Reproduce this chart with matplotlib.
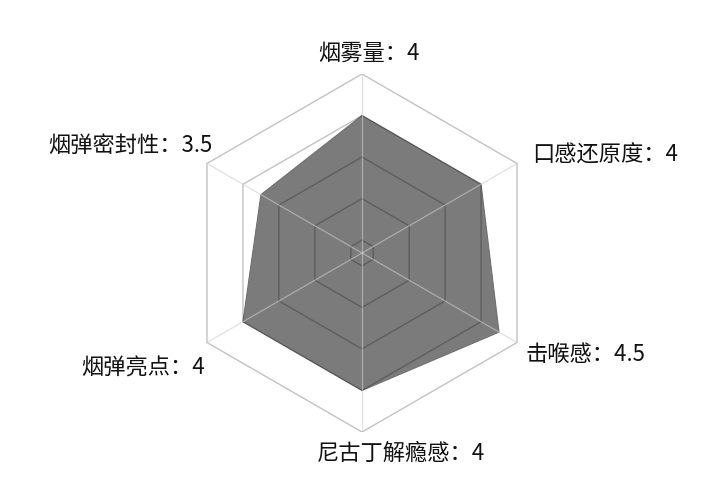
import numpy as np
import matplotlib
matplotlib.use("Agg")
import matplotlib.pyplot as plt

plt.rcParams['font.family'] = ['Noto Sans CJK SC', 'DejaVu Sans']

categories = ['烟雾量', '口感还原度', '击喉感', '尼古丁解瘾感', '烟弹亮点', '烟弹密封性']
values = [4, 4, 4.5, 4, 4, 3.5]
rings = [1, 2, 3, 4, 5]
center_value = 0.69   # value sitting at the centre point

angles = np.deg2rad(90 - 60 * np.arange(len(categories)))
rmax = rings[-1] - center_value

def to_xy(v):
    r = np.asarray(v, dtype=float) - center_value
    return r * np.cos(angles), r * np.sin(angles)

fig = plt.figure(figsize=(7.02, 4.87), dpi=100)
ax = fig.add_axes([183 / 702, 55 / 487, 358 / 702, 358 / 487])
ax.set_xlim(-rmax, rmax)
ax.set_ylim(-rmax, rmax)
ax.set_aspect('equal')
ax.axis('off')

# data polygon
x, y = to_xy(values)
ax.fill(x, y, color='#7b7b7b', edgecolor='#707070', linewidth=0.8, zorder=1)

# hexagon rings and spokes on top of the fill
for v in rings:
    gx, gy = to_xy([v] * len(categories))
    ax.plot(np.append(gx, gx[0]), np.append(gy, gy[0]),
            color='black', alpha=0.24, linewidth=1.0, zorder=2)
ox, oy = to_xy([rings[-1]] * len(categories))
for px, py in zip(ox, oy):
    ax.plot([0, px], [0, py], color='#cccccc', alpha=0.6, linewidth=0.9, zorder=2)

# axis labels
offsets = [(7, 21), (15, 8), (8, -12), (-45, -21), (-2, -26), (5, 18)]
aligns = ['center', 'left', 'left', 'left', 'right', 'right']
for name, val, px, py, off, ha in zip(categories, values, ox, oy, offsets, aligns):
    ax.annotate(f'{name}：{val:g}', xy=(px, py), xytext=off,
                textcoords='offset pixels', ha=ha, va='center',
                fontsize=16, color='#111111', annotation_clip=False)

fig.savefig('out.png', dpi=100)
